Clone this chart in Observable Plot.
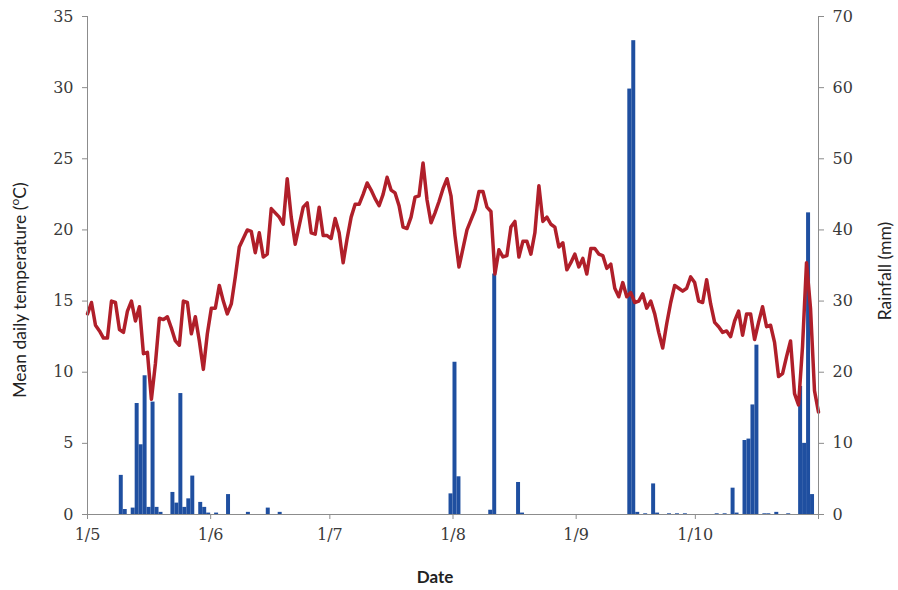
<!DOCTYPE html>
<html>
<head>
<meta charset="utf-8">
<script src="https://cdn.jsdelivr.net/npm/d3@7"></script>
<script src="https://cdn.jsdelivr.net/npm/@observablehq/plot@0.6"></script>
<style>
  html, body { margin: 0; padding: 0; background: #fff; }
  #chart { width: 898px; height: 590px; }
</style>
</head>
<body>
<div id="chart"></div>
<script>
// Mean daily temperature (°C), one value per day from 1 May to 31 Oct
const temperature = [
  14.1, 14.9, 13.3, 12.9, 12.4, 12.4, 15.0, 14.9, 13.0, 12.8,
  14.3, 15.0, 13.6, 14.6, 11.3, 11.4, 8.1, 10.6, 13.8, 13.7,
  13.9, 13.1, 12.2, 11.9, 15.0, 14.9, 12.7, 13.9, 12.2, 10.2,
  12.7, 14.5, 14.5, 16.1, 15.0, 14.1, 14.8, 16.7, 18.8, 19.4,
  20.0, 19.9, 18.4, 19.8, 18.1, 18.3, 21.5, 21.2, 20.9, 20.4,
  23.6, 20.9, 19.0, 20.3, 21.6, 21.9, 19.8, 19.7, 21.6, 19.6,
  19.6, 19.4, 20.8, 19.8, 17.7, 19.4, 20.9, 21.8, 21.8, 22.5,
  23.3, 22.8, 22.2, 21.7, 22.5, 23.7, 22.8, 22.6, 21.7, 20.2,
  20.1, 20.9, 22.3, 22.4, 24.7, 22.1, 20.5, 21.2, 22.0, 22.9,
  23.6, 22.4, 19.6, 17.4, 18.7, 20.0, 20.7, 21.4, 22.7, 22.7,
  21.6, 21.3, 16.9, 18.6, 18.1, 18.2, 20.2, 20.6, 18.1, 19.2,
  19.2, 18.3, 19.8, 23.1, 20.6, 20.9, 20.4, 20.2, 18.8, 19.1,
  17.2, 17.7, 18.3, 17.4, 18.0, 16.9, 18.7, 18.7, 18.3, 18.2,
  17.3, 17.6, 15.9, 15.3, 16.3, 15.3, 15.6, 14.9, 15.0, 15.5,
  14.5, 15.0, 14.1, 12.8, 11.7, 13.4, 14.9, 16.1, 15.9, 15.7,
  15.9, 16.7, 16.3, 15.0, 14.9, 16.5, 14.8, 13.5, 13.2, 12.8,
  12.9, 12.5, 13.6, 14.3, 12.6, 14.1, 14.1, 12.3, 13.5, 14.6,
  13.2, 13.3, 12.1, 9.7, 9.9, 11.1, 12.2, 8.5, 7.7, 11.8,
  17.7, 14.5, 8.7, 7.2
];

// Daily rainfall (mm): day index (0 = 1 May) and amount
const rainDay = [8, 9, 11, 12, 13, 14, 15, 16, 17, 18, 21, 22, 23, 24, 25, 26, 28, 29, 30, 32, 35, 40, 45, 48,
  91, 92, 93, 101, 102, 108, 109,
  136, 137, 138, 140, 142, 143, 146, 148, 150, 158, 160, 162, 163, 165, 166, 167, 168,
  170, 171, 173, 176, 179, 180, 181, 182];
const rainMm = [5.5, 0.7, 0.9, 15.6, 9.8, 19.5, 1.0, 15.8, 1.0, 0.3, 3.1, 1.6, 17.0, 1.0, 2.2, 5.4, 1.7, 1.0, 0.2, 0.2, 2.8, 0.3, 0.9, 0.3,
  2.9, 21.4, 5.3, 0.6, 33.8, 4.5, 0.2,
  59.8, 66.6, 0.3, 0.1, 4.3, 0.2, 0.1, 0.1, 0.1, 0.1, 0.1, 3.7, 0.2, 10.4, 10.6, 15.4, 23.8,
  0.1, 0.1, 0.3, 0.1, 18.0, 10.0, 42.4, 2.8];

// Axis ticks
const monthStarts = [0, 31, 61, 92, 123, 153];
const monthLabels = ["1/5", "1/6", "1/7", "1/8", "1/9", "1/10"];
const tempTicks = [0, 5, 10, 15, 20, 25, 30, 35];
const rainTicks = [0, 10, 20, 30, 40, 50, 60, 70];

const nDays = 184;
const tempRows = temperature.map((t, i) => ({x: i * nDays / (temperature.length - 1), t}));
const rainRows = rainDay.map((d, i) => ({day: d, mm: rainMm[i]}));
const axisColor = "#8c8c8c";

const chart = Plot.plot({
  width: 898,
  height: 590,
  marginLeft: 87,
  marginRight: 80,
  marginTop: 16,
  marginBottom: 76,
  style: {fontFamily: "'DejaVu Serif'", fontSize: "16px", color: "#3a3a3a", background: "#fff"},
  x: {type: "linear", domain: [0, nDays]},
  y: {domain: [0, 35]},
  marks: [
    Plot.rectY(rainRows, {x1: "day", x2: d => d.day + 1, y1: 0, y2: d => d.mm * 35 / 70, fill: "#1f4fa0"}),
    Plot.lineY(tempRows, {x: "x", y: "t", stroke: "#b01f2a", strokeWidth: 3.5, strokeLinejoin: "round"}),
    Plot.ruleY([0], {stroke: axisColor}),
    Plot.ruleX([0], {stroke: axisColor}),
    Plot.ruleX([nDays], {stroke: axisColor}),
    Plot.axisY({anchor: "left", ticks: tempTicks, tickSize: 5, tickPadding: 9, stroke: axisColor, label: null}),
    Plot.axisY({anchor: "right", ticks: rainTicks.map(v => v * 35 / 70), tickFormat: v => String(Math.round(v * 70 / 35)), tickSize: 5, tickPadding: 9, stroke: axisColor, label: null}),
    Plot.axisX({ticks: monthStarts, tickFormat: (v) => monthLabels[monthStarts.indexOf(v)], tickSize: 5, tickPadding: 9, stroke: axisColor, label: null}),
    Plot.axisX({ticks: [nDays], tickFormat: () => "", tickSize: 5, stroke: axisColor, label: null})
  ]
});

document.getElementById("chart").appendChild(chart);

// Axis titles
const svg = d3.select(chart);
const titleFont = "Lato, 'Open Sans', sans-serif";
svg.append("text")
  .attr("x", 435).attr("y", 583)
  .attr("text-anchor", "middle")
  .attr("font-family", titleFont).attr("font-size", 17).attr("font-weight", "bold")
  .attr("fill", "#222")
  .text("Date");
const lt = svg.append("text")
  .attr("transform", "translate(26,290) rotate(-90)")
  .attr("text-anchor", "middle")
  .attr("font-family", titleFont).attr("font-size", 17.5)
  .attr("fill", "#222");
lt.append("tspan").text("Mean daily temperature (");
lt.append("tspan").attr("font-size", 12).attr("dy", -7).text("o");
lt.append("tspan").attr("dy", 7).text("C)");
svg.append("text")
  .attr("transform", "translate(891,271) rotate(-90)")
  .attr("text-anchor", "middle")
  .attr("font-family", titleFont).attr("font-size", 17.5)
  .attr("fill", "#222")
  .text("Rainfall (mm)");
</script>
</body>
</html>
